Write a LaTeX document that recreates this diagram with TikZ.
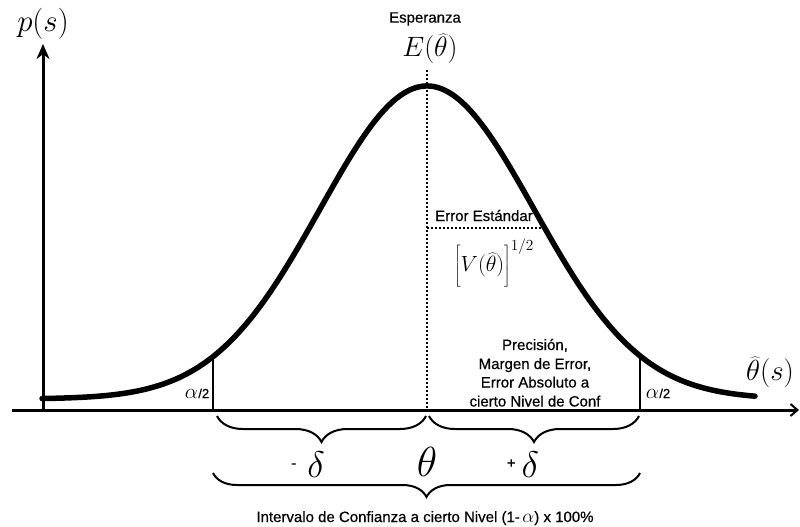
\RequirePackage{fix-cm}
\documentclass[tikz,border=0pt]{standalone}
\usepackage{fontspec}
\newfontfamily\labfont[FakeBold=0.5]{Liberation Sans}
\usetikzlibrary{arrows.meta,decorations.pathreplacing}
\tikzset{
  axisline/.style={line width=3pt},
  bell/.style={line width=5.5pt, line join=round, line cap=round},
  cutline/.style={line width=1.8pt},
  dotline/.style={line width=2pt, dash pattern=on 2pt off 2pt},
  bracedown/.style={line width=2pt, decorate, decoration={brace, mirror, amplitude=#1}},
  lab/.style={font=\labfont\fontsize{15}{18}\selectfont, inner sep=0pt},
  mth/.style={font=\fontsize{#1}{#1}\selectfont, inner sep=0pt},
}
\begin{document}
\begin{tikzpicture}[x=1pt,y=-1pt]
\useasboundingbox[fill=white] (0,0) rectangle (800,527);
% axes
\coordinate (xs) at (12,410);
\coordinate (xe) at (799,410);
\coordinate (yo) at (43,412);
\coordinate (ye) at (43,44);
\draw[axisline, -{Stealth[length=15pt,width=13pt]}] (yo) -- (ye);
\draw[axisline, -{Straight Barb[length=7pt,width=12pt,line width=2pt]}] (xs) -- (xe);
% bell curve
\draw[bell] plot[domain=42:755,samples=220] (\x,{399-313*exp(-0.5*((\x-427)/107)*((\x-427)/107))});
% cut lines
\coordinate (al) at (213,410);
\coordinate (cl) at (213,357);
\coordinate (ar) at (640,410);
\coordinate (cr) at (640,356);
\draw[cutline] (al) -- (cl);
\draw[cutline] (ar) -- (cr);
% expectation dotted line
\coordinate (mt) at (427,70);
\coordinate (mb) at (427,410);
\draw[dotline] (mt) -- (mb);
% standard error dotted line
\coordinate (el) at (427,228);
\coordinate (er) at (545,228);
\draw[dotline] (el) -- (er);
% labels
\node[mth=31] (ps) at (43,24) {$p(s)$};
\node[mth=29] (ths) at (770,372) {$\widehat{\theta}(s)$};
\node[lab] (esp) at (425,19) {Esperanza};
\node[mth=28] (Eth) at (430,49) {$E(\widehat{\theta})$};
\node[lab, anchor=base] (ee) at (484,221) {Error Estándar};
\node[mth=22] (var) at (494,263) {$\left[\rule[-15pt]{0pt}{42pt}V(\widehat{\theta})\right]^{1/2}$};
\node[lab, anchor=base] (p1) at (535,350) {Precisión,};
\node[lab, anchor=base] (p2) at (535,369) {Margen de Error,};
\node[lab, anchor=base] (p3) at (535,387.5) {Error Absoluto a};
\node[lab, anchor=base] (p4) at (535,406.5) {cierto Nivel de Conf};
\node[mth=21, anchor=base] (a1) at (197,398) {$\alpha$\kern0.3pt{\labfont\fontsize{13}{13}\selectfont /2}};
\node[mth=21, anchor=base] (a2) at (658,398) {$\alpha$\kern0.3pt{\labfont\fontsize{13}{13}\selectfont /2}};
% braces
\coordinate (b1l) at (217,416);
\coordinate (b1r) at (426,416);
\coordinate (b2l) at (429,416);
\coordinate (b2r) at (639,416);
\coordinate (b3l) at (213,473);
\coordinate (b3r) at (640,473);
\draw[bracedown=26pt] (b1l) -- (b1r);
\draw[bracedown=26pt] (b2l) -- (b2r);
\draw[bracedown=24pt] (b3l) -- (b3r);
\node[mth=37, anchor=base] (md) at (308,477) {\raisebox{9pt}{\labfont\fontsize{15}{15}\selectfont -}\hspace{11pt}$\delta$};
\node[mth=42, anchor=base] (th) at (427,476) {$\theta$};
\node[mth=37, anchor=base] (pd) at (523,477) {\raisebox{9pt}{\labfont\fontsize{15}{15}\selectfont +}\hspace{6pt}$\delta$};
\node[lab, anchor=base] (ic) at (425,522) {Intervalo de Confianza a cierto Nivel (1-\,{\fontsize{19}{19}\selectfont$\alpha$}) x 100\%};
\end{tikzpicture}
\end{document}
